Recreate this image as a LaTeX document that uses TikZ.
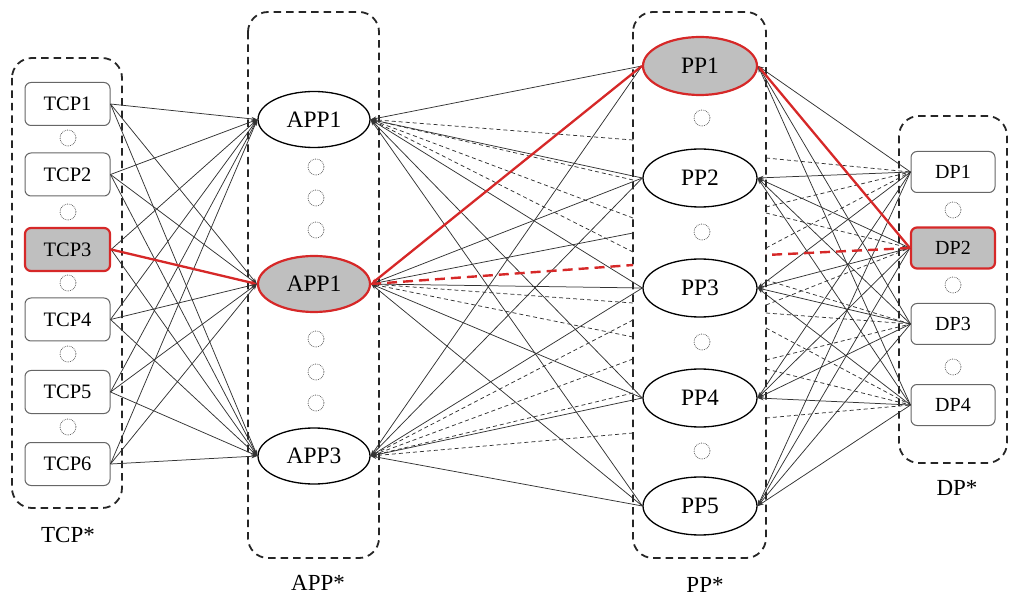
\documentclass[tikz,border=0pt]{standalone}
\usepackage{fontspec}
\setmainfont{Liberation Serif}
\usetikzlibrary{shapes.geometric,arrows.meta}
\definecolor{hired}{HTML}{D62828}
\definecolor{nodegray}{HTML}{BFBFBF}
\begin{document}
\begin{tikzpicture}[x=1pt,y=-1pt,
  groupbox/.style={draw=black!85, line width=1.8pt, dash pattern=on 7.5pt off 5pt, rounded corners=20pt},
  tcpbox/.style={draw=black!60, line width=1pt, rounded corners=6pt, fill=white, minimum width=85pt, minimum height=43pt, inner sep=0pt, font=\fontsize{20.5}{22}\selectfont},
  dpbox/.style={draw=black!60, line width=1pt, rounded corners=6pt, fill=white, minimum width=84pt, minimum height=41pt, inner sep=0pt, font=\fontsize{20}{22}\selectfont},
  appell/.style={ellipse, draw=black, line width=1.3pt, fill=white, minimum width=112pt, minimum height=56pt, inner sep=0pt, font=\fontsize{23.5}{25}\selectfont},
  ppell/.style={ellipse, draw=black, line width=1.3pt, fill=white, minimum width=114pt, minimum height=58pt, inner sep=0pt, font=\fontsize{23.5}{25}\selectfont},
  hl/.style={draw=hired, line width=2.2pt, fill=nodegray},
  dotc/.style={circle, draw=black!60, densely dotted, line width=0.8pt, minimum size=16pt, inner sep=0pt},
  grouplabel/.style={font=\fontsize{23}{25}\selectfont},
  tip/.style={-{Stealth[length=6pt,width=4pt]}},
  ln/.style={draw=black!80, line width=0.75pt},
  dl/.style={draw=black!80, line width=0.75pt, dash pattern=on 4pt off 3pt},
  redln/.style={draw=hired, line width=2.3pt},
  reddl/.style={draw=hired, line width=2.4pt, dash pattern=on 10pt off 6pt}
]
\useasboundingbox (0,0) rectangle (1009,601);

% group boxes
\draw[groupbox] (12,58) rectangle (122,508);
\draw[groupbox] (248,12) rectangle (379,558);
\draw[groupbox] (633,12) rectangle (766,558);
\draw[groupbox] (899,116) rectangle (1007,463);

\node[grouplabel] (lTCP) at (68,535) {TCP*};
\node[grouplabel] (lAPP) at (318,583) {APP*};
\node[grouplabel] (lPP) at (705,585) {PP*};
\node[grouplabel] (lDP) at (957,488) {DP*};

% TCP nodes
\node[tcpbox] (t1) at (67.5,104) {TCP1};
\node[tcpbox] (t2) at (67.5,174.5) {TCP2};
\node[tcpbox,hl] (t3) at (67.5,249.5) {TCP3};
\node[tcpbox] (t4) at (67.5,319.5) {TCP4};
\node[tcpbox] (t5) at (67.5,392) {TCP5};
\node[tcpbox] (t6) at (67.5,464) {TCP6};
\foreach \y [count=\i] in {138,212,283,354,427} \node[dotc] (tc\i) at (68,\y) {};

% APP nodes
\node[appell] (a1) at (314,119.5) {APP1};
\node[appell,hl] (a2) at (314,284) {APP1};
\node[appell] (a3) at (314,456) {APP3};
\foreach \y [count=\i] in {167,198,230,339,372,403} \node[dotc] (ac\i) at (316,\y) {};

% PP nodes
\node[ppell,hl] (p1) at (700,66) {PP1};
\node[ppell] (p2) at (700,178) {PP2};
\node[ppell] (p3) at (700,288) {PP3};
\node[ppell] (p4) at (700,398) {PP4};
\node[ppell] (p5) at (700,506) {PP5};
\foreach \y [count=\i] in {118,232,342,451} \node[dotc] (pc\i) at (702,\y) {};

% DP nodes
\node[dpbox] (d1) at (953,172) {DP1};
\node[dpbox,hl] (d2) at (953,248) {DP2};
\node[dpbox] (d3) at (953,324) {DP3};
\node[dpbox] (d4) at (953,405) {DP4};
\foreach \y [count=\i] in {210,285,367} \node[dotc] (dc\i) at (953,\y) {};

% border points on PP box (left side)
\foreach \y [count=\i] in {140,180,218,252,303,337,320,359,393,433,233,265}
  \coordinate (L\i) at (633,\y);
% border points on PP box (right side)
\foreach \y [count=\i] in {158,207,213,248,280,305,313,328,360,369,418,255}
  \coordinate (R\i) at (766,\y);

% TCP -> APP
\foreach \t in {t1,t2,t4,t5,t6} \foreach \a in {a1,a2,a3}
  \draw[ln,tip] (\t.east) -- (\a.west);
\draw[ln,tip] (t3.east) -- (a1.west);
\draw[ln,tip] (t3.east) -- (a3.west);

% PP -> APP (solid)
\foreach \p in {p2,p3,p4,p5} \foreach \a in {a1,a2,a3}
  \draw[ln,tip] (\p.west) -- (\a.east);
\draw[ln,tip] (p1.west) -- (a1.east);
\draw[ln,tip] (p1.west) -- (a3.east);
\draw[ln,tip] (L11) -- (a2.east);

% dashed to APP
\foreach \i in {1,2,3,4} \draw[dl,tip] (L\i) -- (a1.east);
\foreach \i in {5,6} \draw[dl,tip] (L\i) -- (a2.east);
\foreach \i in {7,8,9,10} \draw[dl,tip] (L\i) -- (a3.east);

% DP -> PP (solid)
\foreach \d in {d1,d3,d4} \foreach \p in {p1,p2,p3,p4,p5}
  \draw[ln,tip] (\d.west) -- (\p.east);
\foreach \p in {p2,p3,p4,p5}
  \draw[ln,tip] (d2.west) -- (\p.east);

% dashed to DP
\foreach \i/\d in {1/d1,2/d1,3/d2,4/d1,5/d3,6/d2,7/d3,8/d4,9/d3,10/d4,11/d4}
  \draw[dl] (R\i) -- (\d.west);

% highlighted path
\draw[redln,tip] (t3.east) -- (a2.west);
\draw[redln,tip] (p1.west) -- (a2.east);
\draw[reddl] (a2.east) -- (L12);
\draw[redln,tip] (d2.west) -- (p1.east);
\draw[reddl] (d2.west) -- (R12);

\end{tikzpicture}
\end{document}
